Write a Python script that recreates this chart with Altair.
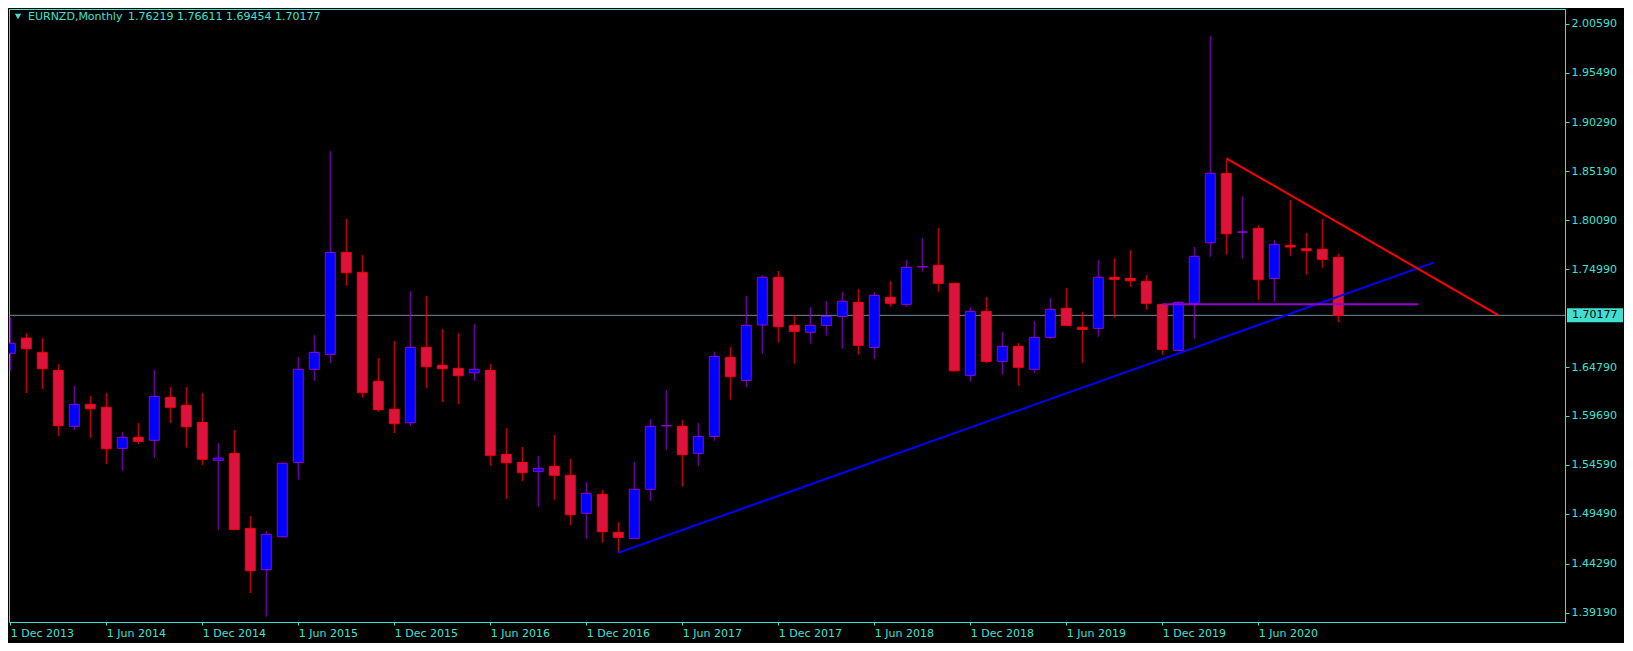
import json
import altair as alt
import pandas as pd

# ---------------- data ----------------
SYMBOL = "EURNZD,Monthly"
QUOTE = "1.76219 1.76611 1.69454 1.70177"
LAST_PRICE = 1.70177

# bar index 0 = Dec 2013, one bar per month, 84 bars (to Nov 2020)
opens = [1.6622, 1.6781, 1.6632, 1.6444, 1.5861, 1.6090, 1.6059, 1.5631, 1.5746, 1.5715,
         1.6163, 1.6080, 1.5902, 1.5506, 1.5579, 1.4797, 1.4366, 1.4710, 1.5485, 1.6455,
         1.6611, 1.7674, 1.7466, 1.6330, 1.6038, 1.5898, 1.6684, 1.6497, 1.6465, 1.6419,
         1.6444, 1.5569, 1.5485, 1.5392, 1.5444, 1.5350, 1.4954, 1.5152, 1.4756, 1.4693,
         1.5204, 1.5865, 1.5861, 1.5579, 1.5756, 1.6580, 1.6340, 1.6917, 1.7414, 1.6913,
         1.6841, 1.6913, 1.7007, 1.7153, 1.6684, 1.7205, 1.7132, 1.7522, 1.7539, 1.7351,
         1.6392, 1.7059, 1.6538, 1.6695, 1.6455, 1.6788, 1.7091, 1.6893, 1.6882, 1.7414,
         1.7403, 1.7372, 1.7132, 1.6653, 1.7143, 1.7775, 1.8498, 1.7884, 1.7925, 1.7403,
         1.7747, 1.7712, 1.7706, 1.76219]
highs = [1.6997, 1.6833, 1.6781, 1.6510, 1.6281, 1.6177, 1.6208, 1.5801, 1.5895, 1.6448,
         1.6270, 1.6270, 1.6208, 1.5687, 1.5822, 1.4926, 1.4769, 1.5485, 1.6583, 1.6812,
         1.8730, 1.8022, 1.7646, 1.6573, 1.6750, 1.7271, 1.7219, 1.6875, 1.6833, 1.6927,
         1.6510, 1.5843, 1.5645, 1.5551, 1.5770, 1.5520, 1.5280, 1.5197, 1.4863, 1.5488,
         1.5937, 1.6239, 1.5926, 1.5895, 1.6638, 1.6687, 1.7219, 1.7435, 1.7480, 1.7018,
         1.7104, 1.7167, 1.7261, 1.7292, 1.7261, 1.7375, 1.7594, 1.7823, 1.7928, 1.7355,
         1.7104, 1.7209, 1.6844, 1.6729, 1.6958, 1.7198, 1.7302, 1.7052, 1.7594, 1.7615,
         1.7698, 1.7438, 1.7135, 1.7164, 1.7730, 1.9929, 1.8637, 1.8258, 1.7956, 1.7803,
         1.8220, 1.7876, 1.8022, 1.76611]
lows = [1.6440, 1.6208, 1.6250, 1.5760, 1.5822, 1.5739, 1.5468, 1.5398, 1.5676, 1.5533,
        1.5895, 1.5638, 1.5457, 1.4783, 1.4780, 1.4123, 1.3876, 1.4699, 1.5304, 1.6336,
        1.6520, 1.7326, 1.6159, 1.6013, 1.5791, 1.5864, 1.6260, 1.6114, 1.6093, 1.6333,
        1.5450, 1.5103, 1.5290, 1.5023, 1.5096, 1.4832, 1.4689, 1.4647, 1.4543, 1.4690,
        1.5085, 1.5617, 1.5231, 1.5450, 1.5711, 1.6138, 1.6270, 1.6617, 1.6732, 1.6513,
        1.6722, 1.6805, 1.6670, 1.6607, 1.6565, 1.7107, 1.7107, 1.7472, 1.7264, 1.6430,
        1.6326, 1.6520, 1.6399, 1.6284, 1.6419, 1.6771, 1.6910, 1.6520, 1.6795, 1.6993,
        1.7316, 1.7076, 1.6607, 1.6650, 1.6774, 1.7629, 1.7649, 1.7608, 1.7180, 1.7160,
        1.7639, 1.7441, 1.7514, 1.69454]
closes = [1.6726, 1.6670, 1.6461, 1.5867, 1.6090, 1.6044, 1.5627, 1.5746, 1.5704, 1.6173,
          1.6059, 1.5856, 1.5517, 1.5530, 1.4787, 1.4355, 1.4735, 1.5475, 1.6455, 1.6632,
          1.7674, 1.7462, 1.6211, 1.6034, 1.5888, 1.6684, 1.6482, 1.6461, 1.6388, 1.6455,
          1.5558, 1.5481, 1.5377, 1.5423, 1.5350, 1.4939, 1.5162, 1.4762, 1.4704, 1.5204,
          1.5861, 1.5869, 1.5565, 1.5756, 1.6590, 1.6378, 1.6913, 1.7414, 1.6899, 1.6851,
          1.6913, 1.7007, 1.7164, 1.6705, 1.7226, 1.7143, 1.7518, 1.7526, 1.7351, 1.6440,
          1.7059, 1.6538, 1.6695, 1.6476, 1.6788, 1.7080, 1.6913, 1.6872, 1.7414, 1.7393,
          1.7378, 1.7143, 1.6663, 1.7153, 1.7633, 1.8498, 1.7868, 1.7888, 1.7389, 1.7758,
          1.7730, 1.7691, 1.7601, 1.70177]

# drawn objects: (bar index, price) end points
blue_trend_m = [38, 89]
blue_trend_p = [1.4543, 1.7570]
red_trend_m = [76, 93]
red_trend_p = [1.8655, 1.7021]
purple_level_m = [72, 88]
purple_level_p = [1.7134, 1.7134]

x_tick_vals = [0, 6, 12, 18, 24, 30, 36, 42, 48, 54, 60, 66, 72, 78]
x_tick_labels = ["1 Dec 2013", "1 Jun 2014", "1 Dec 2014", "1 Jun 2015", "1 Dec 2015",
                 "1 Jun 2016", "1 Dec 2016", "1 Jun 2017", "1 Dec 2017", "1 Jun 2018",
                 "1 Dec 2018", "1 Jun 2019", "1 Dec 2019", "1 Jun 2020"]
y_tick_vals = [2.00590, 1.95490, 1.90290, 1.85190, 1.80090, 1.74990,
               1.64790, 1.59690, 1.54590, 1.49490, 1.44290, 1.39190]

# ---------------- styling ----------------
W, H = 1556, 613
TURQ = "#40E0D0"
BULL_FILL = "#0000FF"
BULL_LINE = "#9400D3"
BEAR_FILL = "#DC143C"
BEAR_LINE = "#FF0000"
BID_LINE = "#778899"
FONT = "DejaVu Sans"

n = len(opens)
bars = pd.DataFrame({
    "m": list(range(n)),
    "open": opens, "high": highs, "low": lows, "close": closes,
})
bars["dir"] = ["up" if c >= o else "down" for o, c in zip(opens, closes)]

xscale = alt.Scale(domain=[-0.08, 97.17], nice=False, zero=False, padding=0)
yscale = alt.Scale(domain=[1.3821, 2.0211], nice=False, zero=False, padding=0)

label_expr = json.dumps(x_tick_labels) + "[round(datum.value / 6)]"

x_axis = alt.Axis(values=x_tick_vals, labelExpr=label_expr, title=None, grid=False,
                  domain=False, ticks=True, tickColor=TURQ, tickSize=3,
                  labelColor=TURQ, labelFont=FONT, labelFontSize=11, labelAlign="left",
                  labelPadding=2, labelFlush=False, labelOverlap=False)
y_axis = alt.Axis(values=y_tick_vals, format=".5f", orient="right", title=None,
                  grid=False, domain=False, ticks=True, tickColor=TURQ, tickSize=4,
                  labelColor=TURQ, labelFont=FONT, labelFontSize=11, labelPadding=2,
                  labelOverlap=False, labelFlush=False)

dir_stroke = alt.Scale(domain=["up", "down"], range=[BULL_LINE, BEAR_LINE])
dir_fill = alt.Scale(domain=["up", "down"], range=[BULL_FILL, BEAR_FILL])

price_df = pd.DataFrame({"p": [LAST_PRICE]})

bid_line = alt.Chart(price_df).mark_rule(color=BID_LINE, strokeWidth=1).encode(
    y=alt.Y("p:Q", scale=yscale, axis=y_axis)
)

wicks = alt.Chart(bars).mark_rule(strokeWidth=1, clip=True).encode(
    x=alt.X("m:Q", scale=xscale, axis=x_axis),
    y=alt.Y("low:Q", scale=yscale, axis=y_axis),
    y2="high:Q",
    color=alt.Color("dir:N", scale=dir_stroke, legend=None),
)

bodies = alt.Chart(bars).mark_bar(size=10, strokeWidth=1, orient="vertical", clip=True).encode(
    x=alt.X("m:Q", scale=xscale, axis=x_axis),
    y=alt.Y("open:Q", scale=yscale, axis=y_axis),
    y2="close:Q",
    fill=alt.Fill("dir:N", scale=dir_fill, legend=None),
    stroke=alt.Stroke("dir:N", scale=dir_stroke, legend=None),
)


def segment(ms, ps, color):
    df = pd.DataFrame({"m": ms, "p": ps})
    return alt.Chart(df).mark_line(color=color, strokeWidth=2, clip=True).encode(
        x=alt.X("m:Q", scale=xscale, axis=x_axis),
        y=alt.Y("p:Q", scale=yscale, axis=y_axis),
    )


blue_line = segment(blue_trend_m, blue_trend_p, "#0000FF")
red_line = segment(red_trend_m, red_trend_p, "#FF0000")
purple_line = segment(purple_level_m, purple_level_p, BULL_LINE)

one = pd.DataFrame({"k": [0]})
tri = alt.Chart(one).mark_point(shape="triangle-down", filled=True, size=40,
                                color=TURQ, opacity=1).encode(
    x=alt.value(9), y=alt.value(7.5))
sym_text = alt.Chart(pd.DataFrame({"t": [SYMBOL]})).mark_text(
    align="left", baseline="middle", font=FONT, fontSize=11, color=TURQ).encode(
    x=alt.value(19), y=alt.value(7.5), text="t:N")
quote_text = alt.Chart(pd.DataFrame({"t": [QUOTE]})).mark_text(
    align="left", baseline="middle", font=FONT, fontSize=11, color=TURQ).encode(
    x=alt.value(119), y=alt.value(7.5), text="t:N")

price_box = alt.Chart(price_df).mark_rect(fill=TURQ, yOffset=-7, y2Offset=7, clip=False).encode(
    x=alt.value(W + 2), x2=alt.value(W + 58),
    y=alt.Y("p:Q", scale=yscale, axis=y_axis), y2="p:Q")
price_txt = alt.Chart(price_df).mark_text(
    align="left", baseline="middle", font=FONT, fontSize=11, color="#000000",
    clip=False).encode(
    x=alt.value(W + 7), y=alt.Y("p:Q", scale=yscale, axis=y_axis),
    text=alt.Text("p:Q", format=".5f"))

chart = alt.layer(
    bid_line, wicks, bodies, blue_line, red_line, purple_line,
    tri, sym_text, quote_text, price_box, price_txt,
).properties(
    width=W, height=H,
    background="#000000",
    padding={"left": 1, "top": 1, "right": 59, "bottom": 21},
    autosize=alt.AutoSizeParams(type="none"),
).configure_view(
    stroke=TURQ, strokeWidth=1, fill="#000000"
)

chart.save("out.html", embed_options={"renderer": "svg", "actions": False})
